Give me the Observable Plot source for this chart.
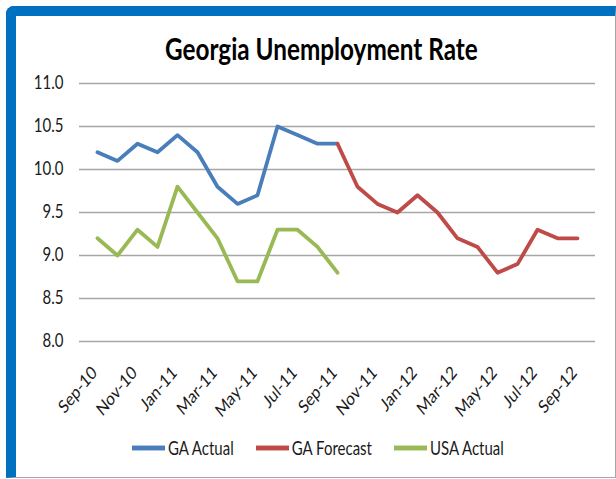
<!DOCTYPE html>
<html>
<head>
<meta charset="utf-8">
<script src="https://cdn.jsdelivr.net/npm/d3@7"></script>
<script src="https://cdn.jsdelivr.net/npm/@observablehq/plot@0.6"></script>
<style>
  html, body { margin: 0; padding: 0; background: #fff; }
  body { width: 616px; height: 479px; position: relative; overflow: hidden; font-family: Lato, sans-serif; }
  #frame { position: absolute; left: 6px; top: 6px; width: 599px; height: 461px;
    border-left: 10px solid #0070C0; border-top: 10px solid #0070C0;
    border-right: 1px solid #a6a6a6; border-bottom: 1px solid #a6a6a6;
    border-top-left-radius: 8px; box-sizing: content-box; }
  #title { position: absolute; left: 165px; top: 40px; white-space: nowrap;
    font-weight: bold; font-size: 24.3px; line-height: 24px; color: #000;
    transform-origin: 0 100%; transform: scaleY(1.28); }
  #chart { position: absolute; left: 0; top: 0; }
  #legend { position: absolute; top: 439px; left: 132px; display: flex; font-size: 15px; line-height: 18px; color: #1a1a1a;
    transform-origin: 0 50%; transform: scaleY(1.22); }
  .item { display: flex; align-items: center; margin-right: 22px; }
  .sw { width: 33px; height: 3.5px; margin-right: 3px; }
</style>
</head>
<body>
<div id="frame"></div>
<div id="title">Georgia Unemployment Rate</div>
<div id="chart"></div>
<div id="legend"></div>
<script>
const months = ["Sep-10","Oct-10","Nov-10","Dec-10","Jan-11","Feb-11","Mar-11","Apr-11","May-11","Jun-11","Jul-11","Aug-11","Sep-11","Oct-11","Nov-11","Dec-11","Jan-12","Feb-12","Mar-12","Apr-12","May-12","Jun-12","Jul-12","Aug-12","Sep-12"];
const gaActual = [10.2, 10.1, 10.3, 10.2, 10.4, 10.2, 9.8, 9.6, 9.7, 10.5, 10.4, 10.3, 10.3];
const gaForecast = [10.3, 9.8, 9.6, 9.5, 9.7, 9.5, 9.2, 9.1, 8.8, 8.9, 9.3, 9.2, 9.2];
const usaActual = [9.2, 9.0, 9.3, 9.1, 9.8, 9.5, 9.2, 8.7, 8.7, 9.3, 9.3, 9.1, 8.8];
const forecastStart = 12;
const seriesNames = ["GA Actual", "GA Forecast", "USA Actual"];
const seriesColors = ["#4a7ebb", "#be4b48", "#98b954"];
const yTicks = [8.0, 8.5, 9.0, 9.5, 10.0, 10.5, 11.0];
const xTickLabels = months.filter((d, i) => i % 2 === 0);

const ga = gaActual.map((v, i) => ({month: months[i], value: v}));
const fc = gaForecast.map((v, i) => ({month: months[i + forecastStart], value: v}));
const us = usaActual.map((v, i) => ({month: months[i], value: v}));

const chart = Plot.plot({
  width: 616, height: 479,
  marginLeft: 79, marginRight: 21, marginTop: 83, marginBottom: 138,
  style: {fontFamily: "Lato, sans-serif", fontSize: "15px", color: "#1a1a1a", background: "transparent"},
  x: {type: "point", domain: months, padding: 0.5, label: null},
  y: {domain: [8, 11], label: null},
  marks: [
    Plot.ruleY(yTicks, {stroke: "#a6a6a6", strokeWidth: 1.5, strokeOpacity: 1}),
    Plot.axisY({ticks: yTicks, tickFormat: d3.format(".1f"), tickSize: 0, tickPadding: 16, label: null}),
    Plot.axisX({ticks: xTickLabels, tickSize: 0, tickRotate: -45, tickPadding: 28, dx: -3, label: null}),
    Plot.line(ga, {x: "month", y: "value", stroke: seriesColors[0], strokeWidth: 3.8}),
    Plot.line(fc, {x: "month", y: "value", stroke: seriesColors[1], strokeWidth: 3.8}),
    Plot.line(us, {x: "month", y: "value", stroke: seriesColors[2], strokeWidth: 3.8})
  ]
});
document.getElementById("chart").appendChild(chart);

// stretch tick labels vertically like the reference's stretched picture
chart.querySelectorAll('g[aria-label$="tick label"] text').forEach(t => {
  const x = +t.getAttribute("x") || 0, y = +t.getAttribute("y") || 0;
  const c = t.transform.baseVal.consolidate();
  let ax = x, ay = y;
  if (c) { const m = c.matrix; ax = m.a * x + m.c * y + m.e; ay = m.b * x + m.d * y + m.f; }
  const old = t.getAttribute("transform") || "";
  t.setAttribute("transform", `translate(${ax},${ay}) scale(1,1.22) translate(${-ax},${-ay}) ${old}`);
});

const lg = document.getElementById("legend");
seriesNames.forEach((n, i) => {
  const it = document.createElement("div"); it.className = "item";
  const sw = document.createElement("div"); sw.className = "sw"; sw.style.background = seriesColors[i];
  const t = document.createElement("span"); t.textContent = n;
  it.appendChild(sw); it.appendChild(t); lg.appendChild(it);
});
</script>
</body>
</html>
